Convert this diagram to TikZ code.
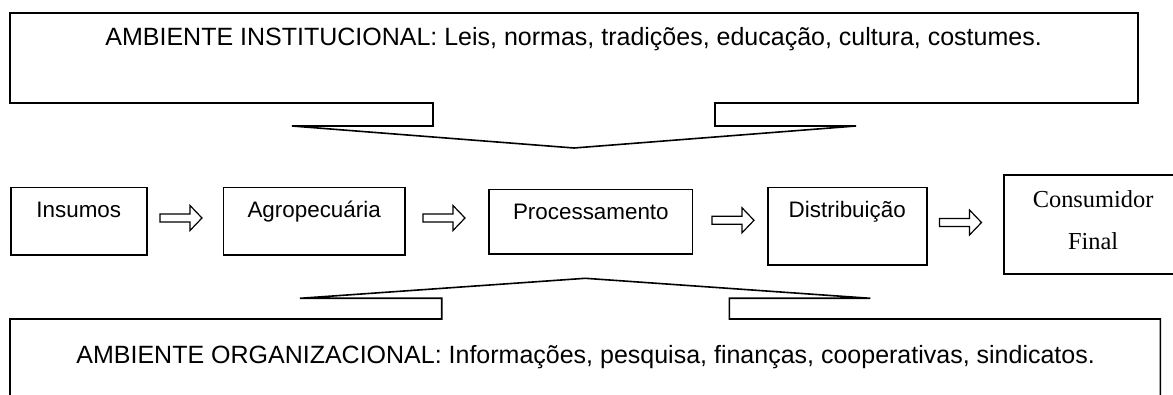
\documentclass[tikz,border=0pt]{standalone}
\usepackage{fontspec}
\setmainfont{Liberation Sans}
\newfontfamily\timesf{Liberation Serif}
\begin{document}
\begin{tikzpicture}[x=0.5pt,y=-0.5pt,
  outl/.style={draw=black,line width=0.8pt,line join=miter},
  bigtext/.style={font=\fontsize{12.5}{15}\selectfont,inner sep=0pt,anchor=base west},
  box/.style={draw=black,line width=0.75pt,anchor=north west,inner sep=0pt},
  boxlab/.style={font=\fontsize{11.2}{13}\selectfont,inner sep=0pt,anchor=base},
  serlab/.style={font=\timesf\fontsize{12.2}{15}\selectfont,inner sep=0pt,anchor=base},
  barrow/.pic={\draw[line width=0.6pt,fill=white] (0,-4) -- (30,-4) -- (30,-12.5) -- (42,0) -- (30,12.5) -- (30,4) -- (0,4) -- cycle;}
]
\useasboundingbox (0,0) rectangle (1173,395);
\fill[white] (0,0) rectangle (1173,395);

% top callout
\draw[outl] (10,13) -- (1138,13) -- (1138,103) -- (715,103) -- (715,126) -- (856,126)
  -- (574,148) -- (292,126) -- (433,126) -- (433,103) -- (10,103) -- cycle;
\node[bigtext] (inst) at (105,45.7) {AMBIENTE INSTITUCIONAL: Leis, normas, tradições, educação, cultura, costumes.};

% chain boxes
\node[box,minimum width=68pt,minimum height=33.7pt] (ins) at (10,186.7) {};
\node[boxlab] at ([yshift=-15.3pt]ins.north) {Insumos};
\node[box,minimum width=90.7pt,minimum height=33.7pt] (agr) at (222.7,186.7) {};
\node[boxlab] at ([yshift=-15.3pt]agr.north) {Agropecuária};
\node[box,minimum width=101.8pt,minimum height=32.2pt] (pro) at (488.3,189) {};
\node[boxlab] at ([yshift=-15.5pt]pro.north) {Processamento};
\node[box,minimum width=79.5pt,minimum height=38.7pt] (dis) at (767,186.7) {};
\node[boxlab] at ([yshift=-15.3pt]dis.north) {Distribuição};
\node[box,line width=0.9pt,minimum width=89.5pt,minimum height=49.7pt] (con) at (1002.7,174) {};
\node[serlab] at ([yshift=-16.65pt]con.north) {Consumidor};
\node[serlab] at ([yshift=-38pt]con.north) {Final};

% block arrows
\pic (a1) at (160,218) {barrow};
\pic (a2) at (423,218) {barrow};
\pic (a3) at (712,220.3) {barrow};
\pic (a4) at (939.5,222.5) {barrow};

% bottom callout
\draw[outl] (10,400) -- (10,319) -- (441.7,319) -- (441.7,298.3) -- (300,298.3) -- (585.3,278.3)
  -- (870.3,298.3) -- (729.3,298.3) -- (729.3,319) -- (1160.3,319) -- (1160.3,400);
\node[bigtext] (org) at (76,364) {AMBIENTE ORGANIZACIONAL: Informações, pesquisa, finanças, cooperativas, sindicatos.};
\end{tikzpicture}
\end{document}
